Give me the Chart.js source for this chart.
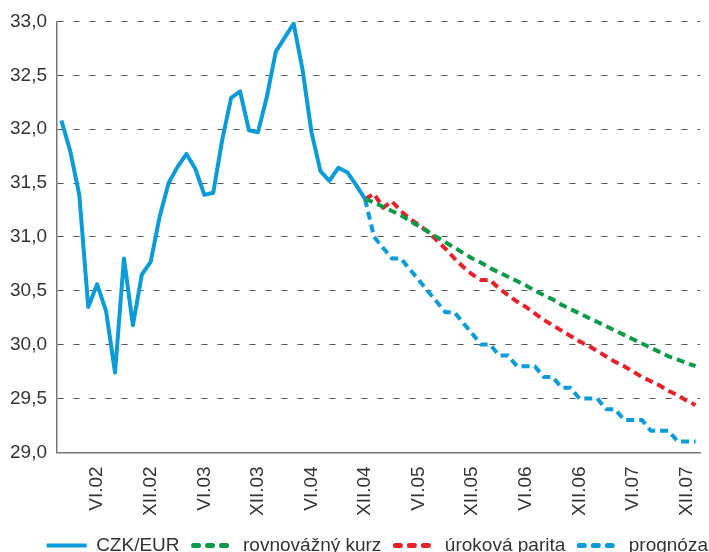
<!DOCTYPE html>
<html lang="cs">
<head>
    <meta charset="UTF-8">
    <title>CZK/EUR</title>
    <script src="https://cdn.jsdelivr.net/npm/chart.js"></script>
    <style>
      html, body { margin: 0; padding: 0; background: #fff; }
      #wrap { width: 709px; height: 552px; }
    </style>
</head>
<body>
    <div id="wrap"><canvas id="kurzChart"></canvas></div>

    <script>
      // months II.02 - I.08
      const months = [
        'II.02', 'III.02', 'IV.02', 'V.02', 'VI.02', 'VII.02', 'VIII.02', 'IX.02', 'X.02', 'XI.02', 'XII.02',
        'I.03', 'II.03', 'III.03', 'IV.03', 'V.03', 'VI.03', 'VII.03', 'VIII.03', 'IX.03', 'X.03', 'XI.03', 'XII.03',
        'I.04', 'II.04', 'III.04', 'IV.04', 'V.04', 'VI.04', 'VII.04', 'VIII.04', 'IX.04', 'X.04', 'XI.04', 'XII.04',
        'I.05', 'II.05', 'III.05', 'IV.05', 'V.05', 'VI.05', 'VII.05', 'VIII.05', 'IX.05', 'X.05', 'XI.05', 'XII.05',
        'I.06', 'II.06', 'III.06', 'IV.06', 'V.06', 'VI.06', 'VII.06', 'VIII.06', 'IX.06', 'X.06', 'XI.06', 'XII.06',
        'I.07', 'II.07', 'III.07', 'IV.07', 'V.07', 'VI.07', 'VII.07', 'VIII.07', 'IX.07', 'X.07', 'XI.07', 'XII.07',
        'I.08'
      ];
      const tickLabels = ['VI.02', 'XII.02', 'VI.03', 'XII.03', 'VI.04', 'XII.04',
                          'VI.05', 'XII.05', 'VI.06', 'XII.06', 'VI.07', 'XII.07'];

      // actual rate II.02 - XII.04
      const czkEur = [32.08, 31.79, 31.39, 30.35, 30.56, 30.31, 29.74, 30.80, 30.18, 30.65, 30.77,
                      31.19, 31.50, 31.65, 31.77, 31.63, 31.39, 31.41, 31.90, 32.29, 32.35, 31.99, 31.97,
                      32.30, 32.72, 32.85, 32.98, 32.55, 31.97, 31.61, 31.52, 31.64, 31.60, 31.48, 31.35];

      // forecasts XII.04 - I.08
      const rovnovazny = [31.35, 31.32, 31.28, 31.24, 31.20, 31.15, 31.10, 31.05, 31.00, 30.95,
                          30.90, 30.85, 30.80, 30.76, 30.71, 30.67, 30.63, 30.59, 30.55, 30.50,
                          30.46, 30.42, 30.37, 30.33, 30.29, 30.25, 30.21, 30.17, 30.13, 30.09,
                          30.05, 30.01, 29.97, 29.93, 29.89, 29.86, 29.83, 29.80];
      const urokova = [31.35, 31.40, 31.27, 31.33, 31.24, 31.17, 31.11, 31.05, 30.97, 30.89,
                       30.80, 30.72, 30.65, 30.60, 30.60, 30.52, 30.46, 30.40, 30.35, 30.29,
                       30.23, 30.18, 30.13, 30.08, 30.03, 29.99, 29.94, 29.89, 29.84, 29.80,
                       29.75, 29.70, 29.66, 29.62, 29.57, 29.53, 29.48, 29.44];
      const prognoza = [31.35, 31.0, 30.9, 30.8, 30.8, 30.7, 30.6, 30.5, 30.4, 30.3,
                        30.3, 30.2, 30.1, 30.0, 30.0, 29.9, 29.9, 29.8, 29.8, 29.8,
                        29.7, 29.7, 29.6, 29.6, 29.5, 29.5, 29.5, 29.4, 29.4, 29.3,
                        29.3, 29.3, 29.2, 29.2, 29.2, 29.1, 29.1, 29.1];

      const forecastStart = months.indexOf('XII.04');
      const padFront = arr => Array(forecastStart).fill(null).concat(arr);

      const BLUE = '#0a9bd8';
      const GREEN = '#0b9a48';
      const RED = '#e8202a';
      const FONT = "'Liberation Sans', Arial, sans-serif";

      Chart.defaults.font.family = FONT;
      Chart.defaults.font.size = 19;
      Chart.defaults.color = '#333';

      // legend sits lower and further right than chart.js puts it
      const legendTweak = {
        id: 'legendTweak',
        afterInit(chart) {
          const fit = chart.legend.fit;
          chart.legend.fit = function () {
            fit.call(this);
            this.height -= 13;
          };
        },
        afterLayout(chart) {
          chart.legend.left += 22;
          chart.legend.right += 22;
        }
      };

      const ctx = document.getElementById('kurzChart').getContext('2d');
      new Chart(ctx, {
        type: 'line',
        data: {
          labels: months,
          datasets: [
            { label: 'CZK/EUR', data: czkEur, borderColor: BLUE, backgroundColor: BLUE,
              borderWidth: 4, legendDash: [] },
            { label: 'rovnovážný kurz', data: padFront(rovnovazny), borderColor: GREEN, backgroundColor: GREEN,
              borderWidth: 4, borderDash: [8, 5], legendDash: [5, 9] },
            { label: 'úroková parita', data: padFront(urokova), borderColor: RED, backgroundColor: RED,
              borderWidth: 4, borderDash: [8, 5], legendDash: [5, 9] },
            { label: 'prognóza', data: padFront(prognoza), borderColor: BLUE, backgroundColor: BLUE,
              borderWidth: 4, borderDash: [8, 5], legendDash: [5, 9] }
          ]
        },
        options: {
          responsive: true,
          maintainAspectRatio: false,
          animation: false,
          elements: { point: { radius: 0 }, line: { tension: 0, borderJoinStyle: 'round' } },
          layout: { padding: { left: 0, right: 9, top: 10, bottom: 0 } },
          scales: {
            x: {
              offset: true,
              grid: { display: false, drawTicks: false },
              border: { display: true, color: '#777', width: 1.5 },
              ticks: {
                autoSkip: false,
                minRotation: 90,
                maxRotation: 90,
                padding: 14,
                callback: function (value) {
                  const lab = this.getLabelForValue(value);
                  return tickLabels.includes(lab) ? lab : '';
                }
              },
              afterFit: scale => {
                scale.paddingLeft = 0;
                scale.paddingRight = 0;
                scale.height -= 8;
              }
            },
            y: {
              min: 29,
              max: 33,
              grid: { color: '#555', lineWidth: 1, drawTicks: false },
              border: { display: true, color: '#777', width: 1.5, dash: [6, 10] },
              ticks: {
                stepSize: 0.5,
                padding: 10,
                callback: v => v.toFixed(1).replace('.', ',')
              }
            }
          },
          plugins: {
            tooltip: { enabled: false },
            legend: {
              position: 'bottom',
              align: 'end',
              labels: {
                usePointStyle: true,
                pointStyleWidth: 40,
                padding: 14,
                generateLabels: chart => chart.data.datasets.map((ds, i) => ({
                  text: ds.label,
                  fillStyle: ds.borderColor,
                  strokeStyle: ds.borderColor,
                  fontColor: '#333',
                  lineWidth: ds.legendDash.length ? 5 : 4,
                  lineDash: ds.legendDash,
                  lineCap: ds.legendDash.length ? 'round' : 'butt',
                  pointStyle: 'line',
                  hidden: false,
                  datasetIndex: i
                }))
              }
            }
          }
        },
        plugins: [legendTweak]
      });
    </script>
</body>
</html>
